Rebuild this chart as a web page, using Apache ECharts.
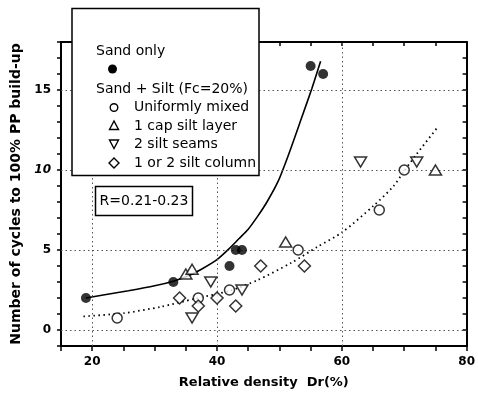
<!DOCTYPE html>
<html><head><meta charset="utf-8">
<script src="https://cdn.jsdelivr.net/npm/echarts@6/dist/echarts.min.js"></script>
<style>html,body{margin:0;padding:0;background:#fff}#c{width:478px;height:394px}</style>
</head><body><div id="c"></div>
<script>
// Sand only (filled circles)
const sandOnly = [[19,2],[33,3],[42,4],[43,5],[44,5],[55,16.5],[57,16]];
// Sand + Silt
const uniformlyMixed = [[24,0.75],[37,2],[42,2.5],[53,5],[66,7.5],[70,10]];
const capSiltLayer = [[35,3.5],[36,3.8],[51,5.5],[75,10]];
const siltSeams = [[36,0.75],[39,3],[44,2.5],[63,10.5],[72,10.5]];
const siltColumn = [[34,2],[37,1.5],[40,2],[43,1.5],[47,4],[54,4]];
// trend curves
const sandCurve = [[19,2.0],[22,2.2],[25.8,2.45],[30,2.76],[33,3.05],[35.5,3.4],[37.5,3.8],[40,4.4],[42,5.1],[43.5,5.7],[45,6.3],[46.5,7.1],[48,8.0],[49.8,9.3],[51.5,11.0],[53.5,13.2],[55.2,15.1],[56.6,16.8]];
const siltCurve = [[18.6,0.85],[25,1.05],[31,1.45],[36.4,1.95],[42,2.45],[46.4,3.1],[51.9,4.2],[56.1,5.2],[60.1,6.12],[65.1,7.77],[68.3,9.0],[70,9.95],[72,11.0],[75.2,12.6]];
// axes
const xTickLabels = [20,40,60,80];
const yTickLabels = [0,5,10,15];
const xGrid = [20,40,60];
const yGrid = [0,5,10,15];
const legendItems = ['Uniformly mixed','1 cap silt layer','2 silt seams','1 or 2 silt column'];

const FONT = 'DejaVu Sans';
const chart = echarts.init(document.getElementById('c'), null, {renderer:'canvas'});
const axisCommon = {
  axisLine:{show:true, onZero:false, lineStyle:{color:'#000', width:2}},
  splitLine:{show:false}
};
const open = {color:'#fff', borderColor:'#000', borderWidth:1.5};
const gridLines = [];
yGrid.forEach(v=>gridLines.push({yAxis:v}));
xGrid.forEach(v=>gridLines.push({xAxis:v}));
const LF = '14px "DejaVu Sans"';

chart.setOption({
  animation:false,
  backgroundColor:'#fff',
  grid:{left:61, right:7, top:42, bottom:47},
  xAxis:[
    Object.assign({type:'value', min:15, max:80, interval:5, position:'bottom',
      axisTick:{show:true, inside:false, length:5, lineStyle:{color:'#000', width:1.5}},
      axisLabel:{margin:10, color:'#000', fontFamily:FONT, fontSize:12, fontWeight:'bold',
        formatter:v=> xTickLabels.includes(v) ? String(v) : ''},
      name:'Relative density  Dr(%)', nameLocation:'middle', nameGap:30,
      nameTextStyle:{color:'#000', fontFamily:FONT, fontSize:13, fontWeight:'bold'}
    }, axisCommon),
    Object.assign({type:'value', min:15, max:80, interval:5, position:'top',
      axisTick:{show:true, inside:true, length:4, lineStyle:{color:'#000', width:1.5}},
      axisLabel:{show:false}}, axisCommon)
  ],
  yAxis:[
    Object.assign({type:'value', min:-1, max:18, interval:1, position:'left',
      axisTick:{show:true, inside:false, length:4, lineStyle:{color:'#000', width:1.5}},
      axisLabel:{margin:10, color:'#000', fontFamily:FONT, fontSize:12, fontWeight:'bold',
        formatter:v=> yTickLabels.includes(v) ? (v===10 ? '{i|10}' : String(v)) : '',
        rich:{i:{fontStyle:'italic', fontFamily:FONT, fontSize:12, fontWeight:'bold', color:'#000'}}},
      name:'Number of cycles to 100% PP build-up', nameLocation:'middle', nameGap:35,
      nameTextStyle:{color:'#000', fontFamily:FONT, fontSize:14, fontWeight:'bold'}
    }, axisCommon),
    Object.assign({type:'value', min:-1, max:18, interval:1, position:'right',
      axisTick:{show:true, inside:true, length:4, lineStyle:{color:'#000', width:1.5}},
      axisLabel:{show:false}}, axisCommon)
  ],
  series:[
    {type:'line', data:sandCurve, smooth:0.25, showSymbol:false, symbol:'none',
      lineStyle:{color:'#000', width:1.6}, z:3,
      markLine:{silent:true, symbol:'none', label:{show:false},
        lineStyle:{color:'#555', width:1, type:[1.5,3]}, data:gridLines}},
    {type:'line', data:siltCurve, smooth:0.25, showSymbol:false, symbol:'none',
      lineStyle:{color:'#000', width:1.8, type:[1.5,3.5]}, z:3},
    {type:'scatter', name:'Sand only', data:sandOnly, symbol:'circle', symbolSize:10,
      itemStyle:{color:'#000'}, z:5},
    {type:'scatter', name:legendItems[0], data:uniformlyMixed, symbol:'circle', symbolSize:10, itemStyle:open, z:5},
    {type:'scatter', name:legendItems[1], data:capSiltLayer, symbol:'triangle', symbolSize:[12,10], itemStyle:open, z:5},
    {type:'scatter', name:legendItems[2], data:siltSeams, symbol:'triangle', symbolRotate:180, symbolSize:[12,10], itemStyle:open, z:5},
    {type:'scatter', name:legendItems[3], data:siltColumn, symbol:'diamond', symbolSize:[12,12], itemStyle:open, z:5}
  ],
  graphic:[
    {type:'rect', z:100, shape:{x:72, y:8.5, width:187, height:167}, style:{fill:'#fff', stroke:'#000', lineWidth:1.5}},
    {type:'text', z:101, x:96, y:51, style:{text:'Sand only', font:LF, fill:'#000', verticalAlign:'middle'}},
    {type:'circle', z:101, shape:{cx:112.5, cy:69, r:4.5}, style:{fill:'#000'}},
    {type:'text', z:101, x:96, y:89, style:{text:'Sand + Silt (Fc=20%)', font:LF, fill:'#000', verticalAlign:'middle'}},
    {type:'circle', z:101, shape:{cx:114, cy:107.5, r:3.8}, style:{fill:'#fff', stroke:'#000', lineWidth:1.4}},
    {type:'polygon', z:101, shape:{points:[[114,121],[109.5,129.5],[118.5,129.5]]}, style:{fill:'#fff', stroke:'#000', lineWidth:1.4}},
    {type:'polygon', z:101, shape:{points:[[109.5,140],[118.5,140],[114,148.5]]}, style:{fill:'#fff', stroke:'#000', lineWidth:1.4}},
    {type:'polygon', z:101, shape:{points:[[114,158],[119,163],[114,168],[109,163]]}, style:{fill:'#fff', stroke:'#000', lineWidth:1.4}},
    {type:'text', z:101, x:134, y:107, style:{text:legendItems[0], font:LF, fill:'#000', verticalAlign:'middle'}},
    {type:'text', z:101, x:134, y:126, style:{text:legendItems[1], font:LF, fill:'#000', verticalAlign:'middle'}},
    {type:'text', z:101, x:134, y:144.5, style:{text:legendItems[2], font:LF, fill:'#000', verticalAlign:'middle'}},
    {type:'text', z:101, x:134, y:163, style:{text:legendItems[3], font:LF, fill:'#000', verticalAlign:'middle'}},
    {type:'rect', z:100, shape:{x:95.5, y:186.5, width:97, height:29}, style:{fill:'#fff', stroke:'#000', lineWidth:1.5}},
    {type:'text', z:101, x:144, y:201, style:{text:'R=0.21-0.23', font:LF, fill:'#000', align:'center', verticalAlign:'middle'}}
  ]
});
</script></body></html>
